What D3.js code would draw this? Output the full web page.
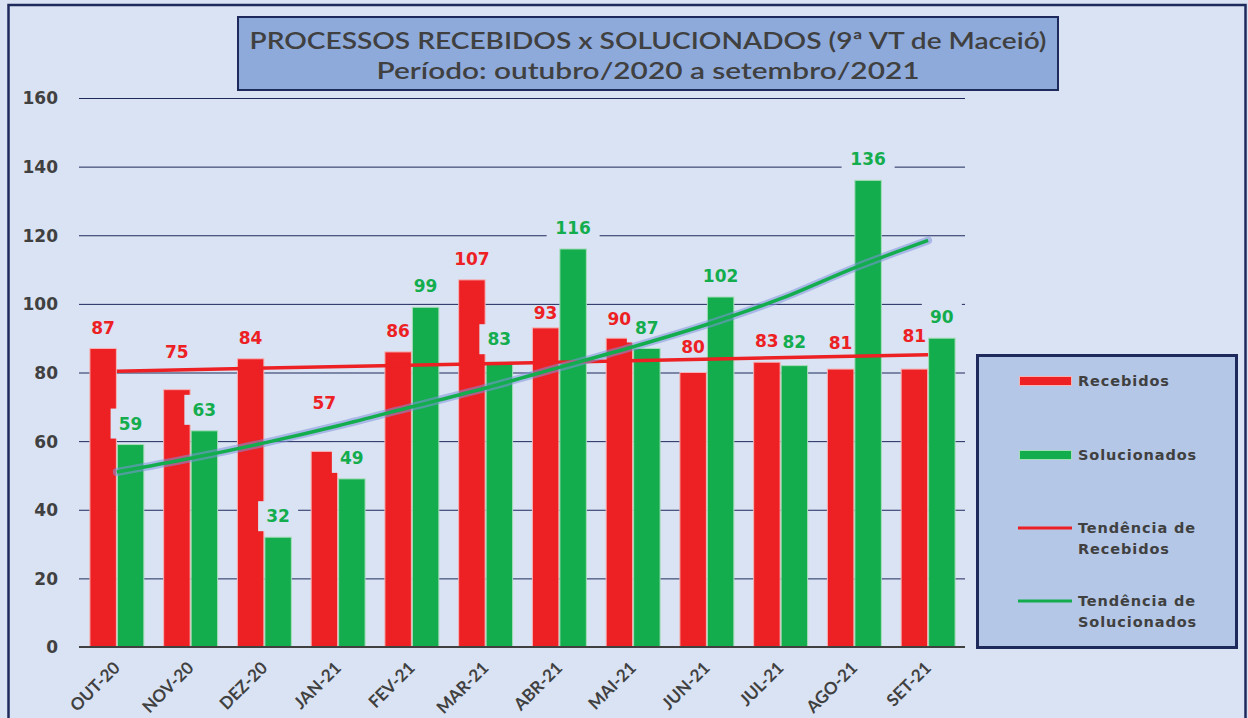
<!DOCTYPE html>
<html>
<head>
<meta charset="utf-8">
<script src="https://cdn.jsdelivr.net/npm/d3@7"></script>
<style>
  body { margin: 0; background: #dae3f3; }
  svg { display: block; }
  .tick text { font-family: "DejaVu Sans", sans-serif; font-weight: bold; font-size: 17px; fill: #404040; }
  .val { font-family: "DejaVu Sans", sans-serif; font-weight: bold; font-size: 17px; }
  .cat { font-family: Lato, sans-serif; font-weight: bold; font-size: 17px; fill: #404040; }
  .leg { font-family: "DejaVu Sans", sans-serif; font-weight: bold; font-size: 14.5px; fill: #404040; letter-spacing: 0.9px; }
  .title { font-family: Lato, sans-serif; font-weight: 600; font-size: 23px; fill: #404040; }
</style>
</head>
<body>
<svg width="1248" height="718"></svg>
<script>
const categories = ['OUT-20','NOV-20','DEZ-20','JAN-21','FEV-21','MAR-21','ABR-21','MAI-21','JUN-21','JUL-21','AGO-21','SET-21']
const recebidos = [87,75,84,57,86,107,93,90,80,83,81,81]
const solucionados = [59,63,32,49,99,83,116,87,102,82,136,90]
// trend lines
const trendRecebidos = [80.4, 85.2]   // first and last month, straight line
const trendSolucionados = [51,55,59.5,64.5,70,75.5,81.5,87.5,94,101.5,110.5,118.5]
const yTicks = [0,20,40,60,80,100,120,140,160]

const navy = '#1f2a5c'
const red = '#ed2024'
const green = '#13ad4e'
const bg = '#dae3f3'

// how far above the bar top each label sits (px), where Excel moved it
const redLift = {'NOV-20': 38, 'JAN-21': 49, 'ABR-21': 15, 'MAI-21': 19, 'JUN-21': 26, 'AGO-21': 26, 'SET-21': 33}
const greenLift = {'MAR-21': 23, 'JUL-21': 24}

const svg = d3.select('svg')

// outer frame
svg.append('rect')
  .attr('x', 8.5).attr('y', 5).attr('width', 1237).attr('height', 730)
  .attr('fill', bg).attr('stroke', navy).attr('stroke-width', 2.5)

const x = d3.scaleBand().domain(categories).range([80, 965])
  .paddingInner(0.255).paddingOuter(0.1275)
const xSub = d3.scaleBand().domain(['r', 'g']).range([0, x.bandwidth()])
const y = d3.scaleLinear().domain([0, 160]).range([647, 98])

// gridlines + y labels
const yAxis = svg.append('g')
  .attr('transform', 'translate(79,0)')
  .call(d3.axisLeft(y).tickValues(yTicks).tickSize(-886).tickPadding(21))
yAxis.select('.domain').remove()
yAxis.selectAll('.tick line').attr('stroke', navy).attr('stroke-width', 1)
yAxis.selectAll('.tick text').attr('dy', '0.35em')

const groups = svg.selectAll('g.month')
  .data(categories)
  .enter()
  .append('g')
  .attr('class', 'month')
  .attr('transform', d => `translate(${x(d)},0)`)

groups.append('rect')
  .attr('x', xSub('r') + 0.5)
  .attr('y', (d, i) => y(recebidos[i]))
  .attr('width', xSub.bandwidth() - 1)
  .attr('height', (d, i) => y(0) - y(recebidos[i]))
  .attr('fill', red).attr('stroke', '#f6b3b6').attr('stroke-width', 1)

groups.append('rect')
  .attr('x', xSub('g') + 0.5)
  .attr('y', (d, i) => y(solucionados[i]))
  .attr('width', xSub.bandwidth() - 1)
  .attr('height', (d, i) => y(0) - y(solucionados[i]))
  .attr('fill', green).attr('stroke', '#a6dcb9').attr('stroke-width', 1)

// green labels sit on a background box that hides what is behind
const gCx = xSub('g') + xSub.bandwidth() / 2
const rCx = xSub('r') + xSub.bandwidth() / 2
const greenY = (d, i) => y(solucionados[i]) - (greenLift[d] || 21)

groups.append('rect')
  .attr('x', (d, i) => gCx - (solucionados[i] > 99 ? 26.5 : 20))
  .attr('y', (d, i) => greenY(d, i) - 15)
  .attr('width', (d, i) => solucionados[i] > 99 ? 53 : 40)
  .attr('height', 30)
  .attr('fill', bg)

groups.append('text')
  .attr('class', 'val')
  .attr('x', gCx)
  .attr('y', greenY)
  .attr('dy', '0.36em')
  .attr('text-anchor', 'middle')
  .attr('fill', green)
  .text((d, i) => solucionados[i])

groups.append('text')
  .attr('class', 'val')
  .attr('x', rCx)
  .attr('y', (d, i) => y(recebidos[i]) - (redLift[d] || 21))
  .attr('dy', '0.36em')
  .attr('text-anchor', 'middle')
  .attr('fill', red)
  .text((d, i) => recebidos[i])

// baseline
svg.append('line')
  .attr('x1', 79).attr('x2', 965).attr('y1', y(0)).attr('y2', y(0))
  .attr('stroke', '#404040').attr('stroke-width', 2)

// x labels
groups.append('text')
  .attr('class', 'cat')
  .attr('text-anchor', 'end')
  .attr('transform', `translate(${x.bandwidth() / 2 + 4},669) rotate(-45)`)
  .text(d => d)

// trend lines
const cx = d => x(d) + x.bandwidth() / 2
const last = categories.length - 1

svg.append('line')
  .attr('x1', cx(categories[0])).attr('y1', y(trendRecebidos[0]))
  .attr('x2', cx(categories[last])).attr('y2', y(trendRecebidos[1]))
  .attr('stroke', red).attr('stroke-width', 3.5)

const trendLine = d3.line()
  .x((d, i) => cx(categories[i]))
  .y(d => y(d))
  .curve(d3.curveMonotoneX)

svg.append('path')
  .attr('d', trendLine(trendSolucionados))
  .attr('fill', 'none').attr('stroke', '#7f93dc').attr('stroke-opacity', 0.55)
  .attr('stroke-width', 8).attr('stroke-linecap', 'round')

svg.append('path')
  .attr('d', trendLine(trendSolucionados))
  .attr('fill', 'none').attr('stroke', green).attr('stroke-width', 3.5)

// title
svg.append('rect')
  .attr('x', 238).attr('y', 17).attr('width', 820).attr('height', 73)
  .attr('fill', '#8eaadb').attr('stroke', navy).attr('stroke-width', 2)
svg.append('text').attr('class', 'title')
  .attr('x', 648).attr('y', 41).attr('dy', '0.36em').attr('text-anchor', 'middle')
  .attr('textLength', 797).attr('lengthAdjust', 'spacingAndGlyphs')
  .text('PROCESSOS RECEBIDOS x SOLUCIONADOS (9ª VT de Maceió)')
svg.append('text').attr('class', 'title')
  .attr('x', 648).attr('y', 71).attr('dy', '0.36em').attr('text-anchor', 'middle')
  .attr('textLength', 543).attr('lengthAdjust', 'spacingAndGlyphs')
  .text('Período: outubro/2020 a setembro/2021')

// legend
const legend = svg.append('g')
legend.append('rect')
  .attr('x', 977.5).attr('y', 355.5).attr('width', 259).attr('height', 292)
  .attr('fill', '#b4c7e7').attr('stroke', navy).attr('stroke-width', 3)

const legendItems = [
  {type: 'box', color: red, lines: ['Recebidos'], y: 381},
  {type: 'box', color: green, lines: ['Solucionados'], y: 455},
  {type: 'line', color: red, lines: ['Tendência de', 'Recebidos'], y: 528},
  {type: 'line', color: green, lines: ['Tendência de', 'Solucionados'], y: 601}
]
legendItems.forEach(item => {
  if (item.type === 'box') {
    legend.append('rect')
      .attr('x', 1019.5).attr('y', item.y - 4.5).attr('width', 52).attr('height', 9)
      .attr('fill', item.color)
      .attr('stroke', item.color === red ? '#f6b3b6' : '#a6dcb9').attr('stroke-width', 1)
  } else {
    legend.append('line')
      .attr('x1', 1018).attr('x2', 1072).attr('y1', item.y).attr('y2', item.y)
      .attr('stroke', item.color).attr('stroke-width', 3)
  }
  item.lines.forEach((t, k) => {
    legend.append('text').attr('class', 'leg')
      .attr('x', 1078).attr('y', item.y + k * 21).attr('dy', '0.36em')
      .text(t)
  })
})
</script>
</body>
</html>
